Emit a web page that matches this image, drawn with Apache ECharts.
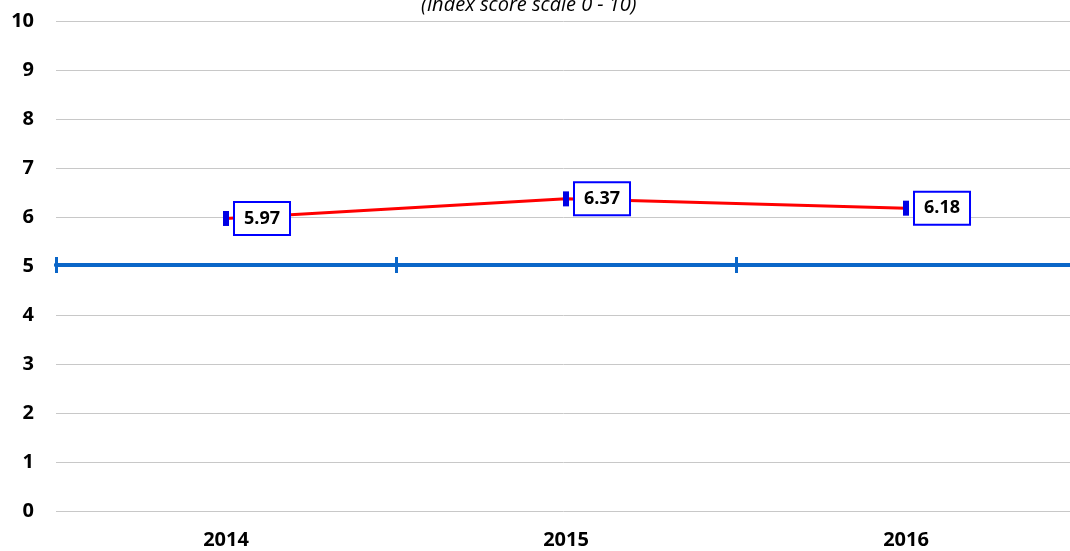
<!DOCTYPE html>
<html>
<head>
<meta charset="utf-8">
<script src="https://cdn.jsdelivr.net/npm/echarts@6/dist/echarts.min.js"></script>
<style>
  html, body { margin: 0; padding: 0; background: #fff; }
  #main { width: 1070px; height: 551px; }
</style>
</head>
<body>
<div id="main"></div>
<script>
var years = ['2014', '2015', '2016'];
var scores = [5.97, 6.37, 6.18];
var yTicks = [0, 1, 2, 3, 4, 5, 6, 7, 8, 9, 10];

var chart = echarts.init(document.getElementById('main'));
var font = 'Open Sans';

// blue category line sits at score 5 (grid bottom 511, 49px per unit)
var axisAt5 = {
  type: 'category',
  data: years,
  position: 'bottom',
  offset: -246,
  boundaryGap: true,
  axisLine: { show: true, lineStyle: { color: '#0a66c8', width: 4 } },
  axisLabel: { show: false },
  splitLine: { show: false }
};

var option = {
  animation: false,
  title: {
    text: '(Index score scale 0 - 10)',
    left: 416,
    top: -10,
    textStyle: { fontFamily: font, fontStyle: 'italic', fontWeight: 'normal', fontSize: 20, color: '#000' }
  },
  grid: { left: 56, right: -6, top: 21, bottom: 40, outerBoundsMode: 'none' },
  xAxis: [
    {
      type: 'category',
      data: years,
      boundaryGap: true,
      axisLine: { show: false },
      axisTick: { show: false },
      axisLabel: { fontFamily: font, fontWeight: 'bold', fontSize: 20, color: '#000', margin: 19 }
    },
    Object.assign({}, axisAt5, { axisTick: { show: true, inside: false, length: 8, lineStyle: { color: '#0a66c8', width: 3 } } }),
    Object.assign({}, axisAt5, { axisTick: { show: true, inside: true, length: 8, lineStyle: { color: '#0a66c8', width: 3 } } })
  ],
  yAxis: {
    type: 'value',
    min: yTicks[0],
    max: yTicks[yTicks.length - 1],
    interval: 1,
    axisLine: { show: false },
    axisTick: { show: false },
    axisLabel: { fontFamily: font, fontWeight: 'bold', fontSize: 20, color: '#000', margin: 22 },
    splitLine: { lineStyle: { color: '#c8c8c8', width: 1 } }
  },
  series: [{
    type: 'line',
    data: scores,
    xAxisIndex: 0,
    lineStyle: { color: '#ff0000', width: 3 },
    symbol: 'rect',
    symbolSize: [6, 15],
    itemStyle: { color: '#0000e6' },
    label: {
      show: true,
      position: 'right',
      distance: 6,
      formatter: function (p) { return p.value.toFixed(2); },
      fontFamily: font,
      fontWeight: 'bold',
      fontSize: 18,
      color: '#000',
      backgroundColor: '#fff',
      borderColor: '#0000ff',
      borderWidth: 2,
      padding: [7, 9, 6, 9]
    },
    z: 5
  }]
};
chart.setOption(option);
</script>
</body>
</html>
